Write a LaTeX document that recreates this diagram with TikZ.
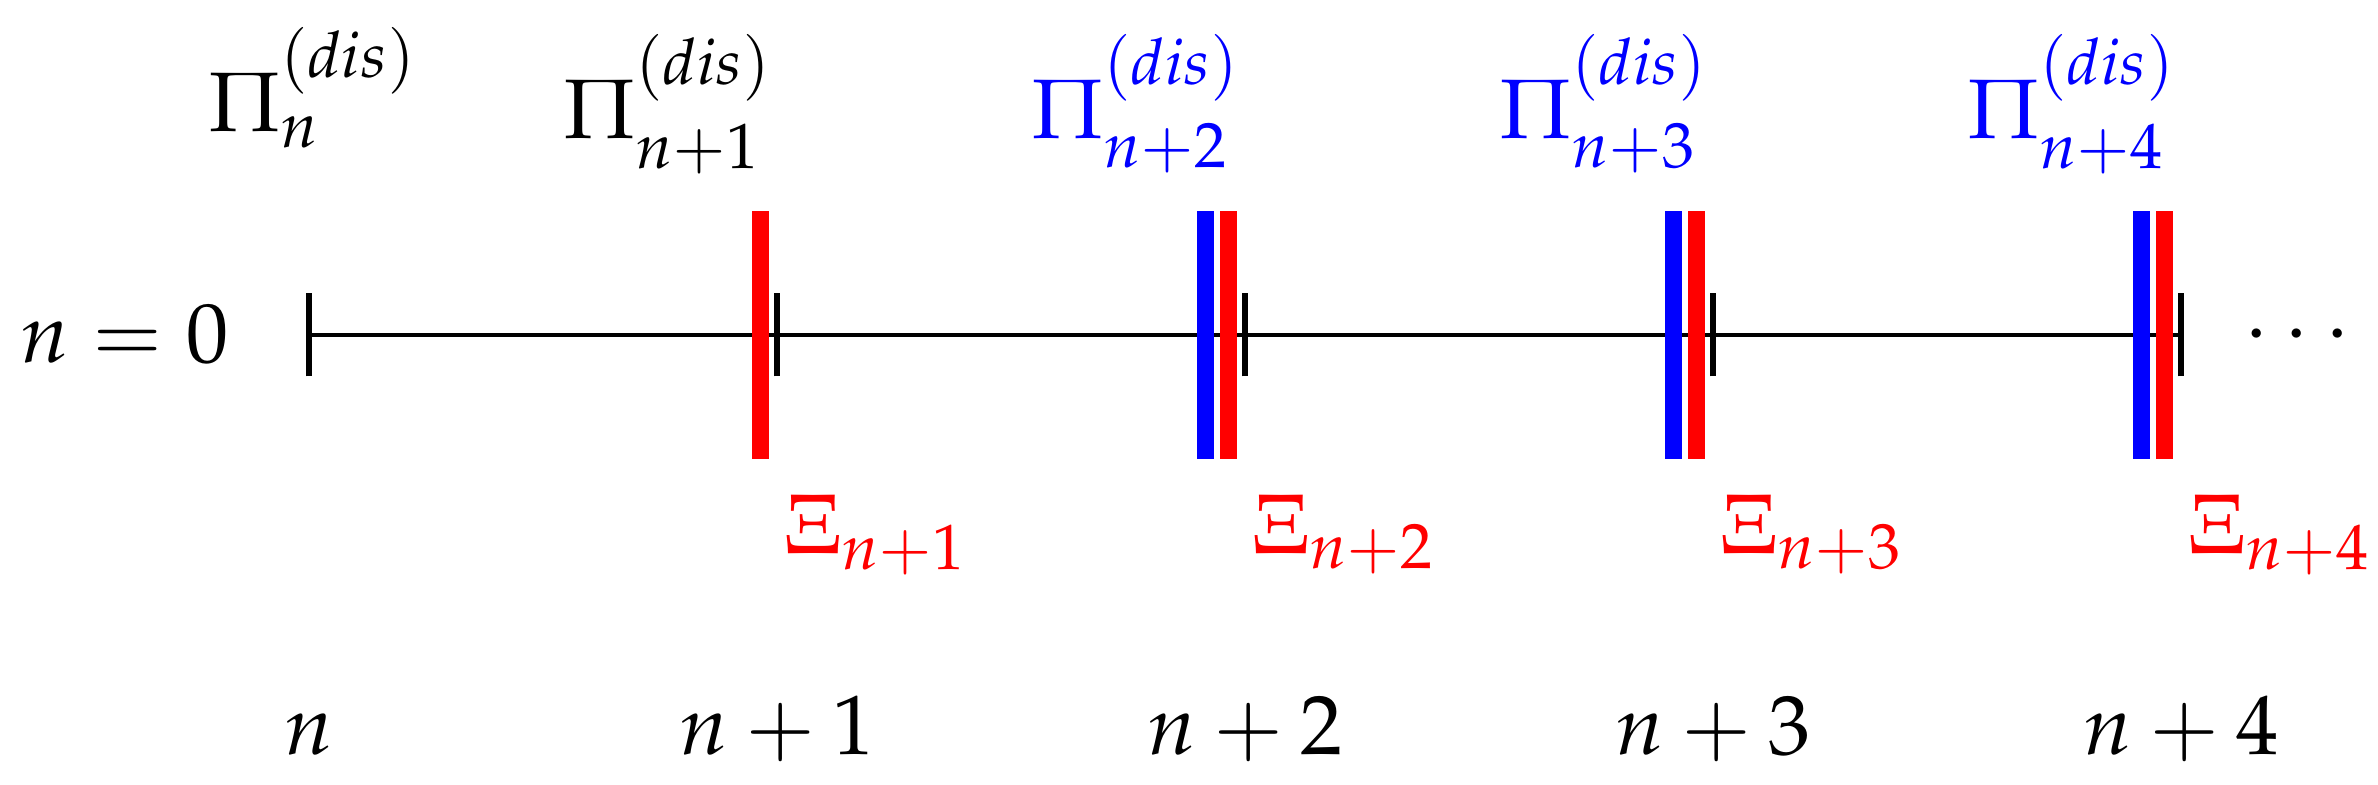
\documentclass[tikz,border=0pt]{standalone}
\usepackage{mathpazo}
\newcommand{\dissup}{\raisebox{2.5pt}{$\scriptstyle(dis)$}\vphantom{(}}
\begin{document}
\begin{tikzpicture}[x=1cm,y=1cm,
  lbl/.style={inner sep=0pt, outer sep=0pt, font=\fontsize{24}{29}\selectfont},
  tickmark/.style={line width=1.9pt},
  axisline/.style={line width=1.4pt},
  redbar/.style={draw=red, line width=4.8pt},
  bluebar/.style={draw=blue, line width=4.8pt}]
\useasboundingbox (0,0) rectangle (23.78,7.85);
% tick positions
\coordinate (t0) at (3.09,4.50);
\coordinate (t1) at (7.77,4.50);
\coordinate (t2) at (12.45,4.50);
\coordinate (t3) at (17.13,4.50);
\coordinate (t4) at (21.81,4.50);
% axis
\draw[axisline] (t0) -- (t4);
\foreach \t in {t0,t1,t2,t3,t4}
  \draw[tickmark] ([yshift=-0.415cm]\t) -- ([yshift=0.415cm]\t);
% red bars
\foreach \t in {t1,t2,t3,t4}
  \draw[redbar] ([xshift=-0.165cm,yshift=-1.24cm]\t) -- ([xshift=-0.165cm,yshift=1.24cm]\t);
% blue bars
\foreach \t in {t2,t3,t4}
  \draw[bluebar] ([xshift=-0.395cm,yshift=-1.24cm]\t) -- ([xshift=-0.395cm,yshift=1.24cm]\t);
% labels
\node[lbl, anchor=base west] (nzero) at (0.20,4.22) {$n=0$};
\node[lbl, anchor=base] (dots) at (22.97,4.29) {$\cdots$};
\node[lbl, anchor=base west] (p0) at (2.08,6.53) {$\Pi_n^{\dissup}$};
\node[lbl, anchor=base east] (p1) at (7.72,6.46) {$\Pi_{n+1}^{\dissup}$};
\node[lbl, anchor=base east, text=blue] (p2) at (12.40,6.46) {$\Pi_{n+2}^{\dissup}$};
\node[lbl, anchor=base east, text=blue] (p3) at (17.08,6.46) {$\Pi_{n+3}^{\dissup}$};
\node[lbl, anchor=base east, text=blue] (p4) at (21.76,6.46) {$\Pi_{n+4}^{\dissup}$};
\node[lbl, anchor=base west, text=red] (x1) at (7.84,2.31) {$\Xi_{n+1}$};
\node[lbl, anchor=base west, text=red] (x2) at (12.52,2.31) {$\Xi_{n+2}$};
\node[lbl, anchor=base west, text=red] (x3) at (17.20,2.31) {$\Xi_{n+3}$};
\node[lbl, anchor=base west, text=red] (x4) at (21.88,2.31) {$\Xi_{n+4}$};
\node[lbl, anchor=base] (b0) at (3.09,0.30) {$n$};
\node[lbl, anchor=base] (b1) at (7.77,0.30) {$n+1$};
\node[lbl, anchor=base] (b2) at (12.45,0.30) {$n+2$};
\node[lbl, anchor=base] (b3) at (17.13,0.30) {$n+3$};
\node[lbl, anchor=base] (b4) at (21.81,0.30) {$n+4$};
\end{tikzpicture}
\end{document}
